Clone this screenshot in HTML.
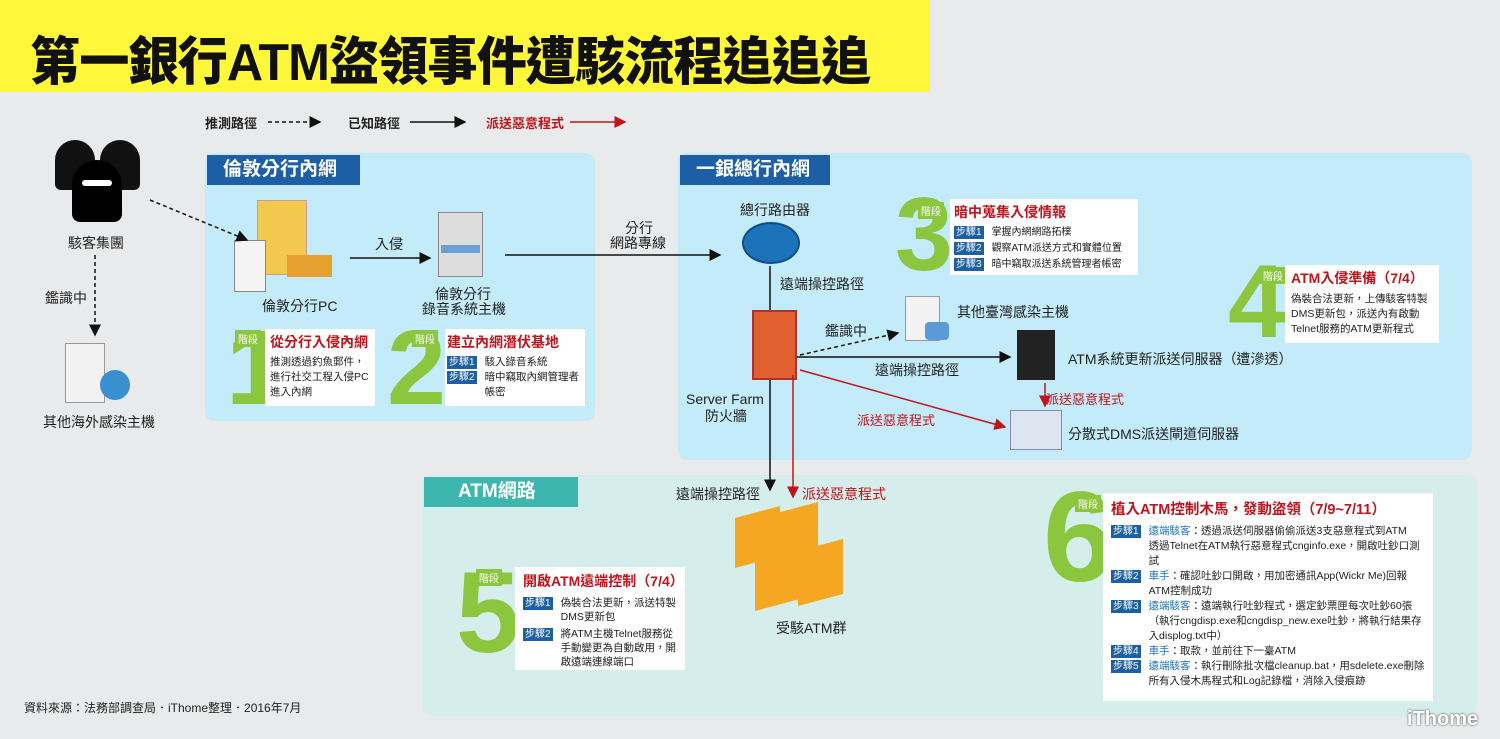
<!DOCTYPE html>
<html><head><meta charset="utf-8">
<style>
*{margin:0;padding:0;box-sizing:border-box}
body{width:1500px;height:739px;overflow:hidden;position:relative;background:#e9eaeb;font-family:"Liberation Sans","Noto Sans CJK TC",sans-serif;color:#222}
.a{position:absolute}
.t{position:absolute;white-space:nowrap;font-size:14px}
.panel{position:absolute;border-radius:10px}
.hdr{position:absolute;color:#fff;font-weight:bold;font-size:19px;padding-left:16px;line-height:30px}
.box{position:absolute;background:#fff}
.num{position:absolute;color:#8cc63f;font-weight:900;font-family:"Liberation Sans",sans-serif;line-height:1}
.jd{position:absolute;background:#8cc63f;color:#fff;font-size:10px;padding:1px 3px}
.bt{color:#c0141c;font-weight:bold;font-size:14px;white-space:nowrap}
.bx{font-size:11px;line-height:15px;color:#222}
.row{display:flex;align-items:flex-start}
.st{flex:none;display:inline-block;background:#1d5fa6;color:#fff;font-size:10px;padding:0 2px;line-height:13px;margin-right:8px;margin-top:1px}
.bl{color:#1d73b9}
</style></head><body>
<div class="a" style="left:0;top:0;width:930px;height:92px;background:#fff83a"></div>
<div class="t" style="left:30px;top:20px;font-size:52px;font-weight:900;color:#111;transform:scaleX(0.965);transform-origin:left top;letter-spacing:-1px">第一銀行ATM盜領事件遭駭流程追追追</div>

<div class="t" style="left:205px;top:113px;font-size:13px;font-weight:bold">推測路徑</div>
<div class="t" style="left:348px;top:113px;font-size:13px;font-weight:bold">已知路徑</div>
<div class="t" style="left:486px;top:113px;font-size:13px;font-weight:bold;color:#c0141c">派送惡意程式</div>

<div class="panel" style="left:205px;top:153px;width:390px;height:268px;background:#c3ebf9"></div>
<div class="hdr" style="left:207px;top:155px;width:153px;background:#1d5fa6">倫敦分行內網</div>
<div class="panel" style="left:678px;top:153px;width:794px;height:307px;background:#c3ebf9"></div>
<div class="hdr" style="left:680px;top:155px;width:150px;background:#1d5fa6">一銀總行內網</div>
<div class="panel" style="left:422px;top:475px;width:1055px;height:241px;background:#d6eeeb"></div>
<div class="hdr" style="left:424px;top:477px;width:154px;background:#3cb6ae;padding-left:34px">ATM網路</div>

<div class="a" style="left:55px;top:140px;width:40px;height:50px;background:#111;border-radius:20px 20px 6px 6px"></div>
<div class="a" style="left:100px;top:140px;width:40px;height:50px;background:#111;border-radius:20px 20px 6px 6px"></div>
<div class="a" style="left:72px;top:160px;width:50px;height:62px;background:#000;border-radius:25px 25px 8px 8px"></div>
<div class="a" style="left:82px;top:180px;width:30px;height:6px;background:#fff;border-radius:3px"></div>
<div class="t" style="left:68px;top:233px">駭客集團</div>
<div class="t" style="left:45px;top:288px">鑑識中</div>
<div class="a" style="left:65px;top:343px;width:40px;height:60px;background:#f2f2f2;border:1px solid #999"></div>
<div class="a" style="left:100px;top:370px;width:30px;height:30px;border-radius:50%;background:#3a8fd0"></div>
<div class="t" style="left:43px;top:412px">其他海外感染主機</div>

<div class="a" style="left:257px;top:200px;width:50px;height:75px;background:#f2c94c;border:1px solid #c99"></div>
<div class="a" style="left:234px;top:240px;width:32px;height:52px;background:#f4f4f4;border:1px solid #888"></div>
<div class="a" style="left:287px;top:255px;width:45px;height:22px;background:#e5a030"></div>
<div class="t" style="left:262px;top:296px">倫敦分行PC</div>
<div class="t" style="left:375px;top:234px">入侵</div>
<div class="a" style="left:438px;top:212px;width:45px;height:65px;background:#ddd;border:1px solid #888"></div>
<div class="a" style="left:441px;top:245px;width:39px;height:8px;background:#6aa0d8"></div>
<div class="t" style="left:435px;top:284px">倫敦分行</div>
<div class="t" style="left:422px;top:299px">錄音系統主機</div>
<div class="t" style="left:625px;top:218px">分行</div>
<div class="t" style="left:610px;top:233px">網路專線</div>

<div class="num" style="left:226px;top:315px;font-size:106px">1</div>
<div class="jd" style="left:235px;top:330px">階段</div>
<div class="box" style="left:265px;top:329px;width:110px;height:77px;padding:3px 5px">
<div class="bt">從分行入侵內網</div><div class="bx" style="margin-top:3px;font-size:10.5px">推測透過釣魚郵件，進行社交工程入侵PC進入內網</div></div>
<div class="num" style="left:387px;top:315px;font-size:106px">2</div>
<div class="jd" style="left:412px;top:330px">階段</div>
<div class="box" style="left:445px;top:329px;width:140px;height:77px;padding:3px 2px">
<div class="bt">建立內網潛伏基地</div><div class="bx" style="margin-top:3px;font-size:10.5px">
<div class="row"><span class="st">步驟1</span><span>駭入錄音系統</span></div>
<div class="row"><span class="st">步驟2</span><span>暗中竊取內網管理者帳密</span></div></div></div>

<div class="t" style="left:740px;top:200px">總行路由器</div>
<div class="a" style="left:742px;top:222px;width:58px;height:42px;border-radius:50%;background:#1d73b9;border:2px solid #0d4d8a"></div>
<div class="t" style="left:780px;top:274px">遠端操控路徑</div>
<div class="a" style="left:752px;top:310px;width:45px;height:70px;background:#e06030;border:2px solid #a33"></div>
<div class="t" style="left:686px;top:391px">Server Farm</div>
<div class="t" style="left:705px;top:406px">防火牆</div>
<div class="a" style="left:905px;top:296px;width:35px;height:45px;background:#f2f2f2;border:1px solid #999"></div>
<div class="a" style="left:925px;top:322px;width:24px;height:18px;background:#5a9ad8;border-radius:4px"></div>
<div class="t" style="left:957px;top:302px">其他臺灣感染主機</div>
<div class="t" style="left:825px;top:321px">鑑識中</div>
<div class="t" style="left:875px;top:360px">遠端操控路徑</div>
<div class="a" style="left:1017px;top:330px;width:38px;height:50px;background:#222"></div>
<div class="t" style="left:1068px;top:349px">ATM系統更新派送伺服器（遭滲透）</div>
<div class="t" style="left:1046px;top:389px;color:#c0141c;font-size:13px">派送惡意程式</div>
<div class="t" style="left:857px;top:410px;color:#c0141c;font-size:13px">派送惡意程式</div>
<div class="a" style="left:1010px;top:410px;width:52px;height:40px;background:#dde6f0;border:1px solid #88a"></div>
<div class="t" style="left:1068px;top:424px">分散式DMS派送閘道伺服器</div>

<div class="num" style="left:895px;top:183px;font-size:104px">3</div>
<div class="jd" style="left:918px;top:202px">階段</div>
<div class="box" style="left:950px;top:199px;width:188px;height:76px;padding:3px 4px">
<div class="bt">暗中蒐集入侵情報</div><div class="bx" style="margin-top:3px;line-height:16px;font-size:10px"><span class="st">步驟1</span>掌握內網網路拓樸<br><span class="st">步驟2</span>觀察ATM派送方式和實體位置<br><span class="st">步驟3</span>暗中竊取派送系統管理者帳密</div></div>
<div class="num" style="left:1228px;top:250px;font-size:104px">4</div>
<div class="jd" style="left:1260px;top:267px">階段</div>
<div class="box" style="left:1285px;top:265px;width:154px;height:78px;padding:3px 6px">
<div class="bt">ATM入侵準備（7/4）</div><div class="bx" style="margin-top:4px;font-size:10.5px">偽裝合法更新，上傳駭客特製DMS更新包，派送內有啟動Telnet服務的ATM更新程式</div></div>

<div class="t" style="left:676px;top:484px">遠端操控路徑</div>
<div class="t" style="left:802px;top:484px;color:#c0141c">派送惡意程式</div>
<div class="a" style="left:735px;top:512px;width:45px;height:50px;background:#f5a623;transform:skewY(-15deg)"></div>
<div class="a" style="left:773px;top:508px;width:45px;height:50px;background:#f5a623;transform:skewY(-15deg)"></div>
<div class="a" style="left:755px;top:550px;width:45px;height:55px;background:#f5a623;transform:skewY(-15deg)"></div>
<div class="a" style="left:798px;top:545px;width:45px;height:55px;background:#f5a623;transform:skewY(-15deg)"></div>
<div class="t" style="left:776px;top:618px">受駭ATM群</div>

<div class="num" style="left:456px;top:556px;font-size:115px">5</div>
<div class="jd" style="left:476px;top:569px">階段</div>
<div class="box" style="left:515px;top:567px;width:170px;height:103px;padding:4px 8px">
<div class="bt">開啟ATM遠端控制（7/4）</div><div class="bx" style="margin-top:5px;font-size:10.5px;line-height:14px">
<div class="row"><span class="st">步驟1</span><span>偽裝合法更新，派送特製DMS更新包</span></div>
<div class="row" style="margin-top:3px"><span class="st">步驟2</span><span>將ATM主機Telnet服務從手動變更為自動啟用，開啟遠端連線端口</span></div></div></div>

<div class="num" style="left:1043px;top:474px;font-size:128px">6</div>
<div class="jd" style="left:1075px;top:495px">階段</div>
<div class="box" style="left:1103px;top:493px;width:330px;height:208px;padding:5px 8px">
<div class="bt" style="font-size:14.5px">植入ATM控制木馬，發動盜領（7/9~7/11）</div>
<div class="bx" style="margin-top:5px;font-size:10.5px;line-height:15px">
<div class="row"><span class="st">步驟1</span><span><span class="bl">遠端駭客</span>：透過派送伺服器偷偷派送3支惡意程式到ATM<br>透過Telnet在ATM執行惡意程式cnginfo.exe，開啟吐鈔口測試</span></div>
<div class="row"><span class="st">步驟2</span><span><span class="bl">車手</span>：確認吐鈔口開啟，用加密通訊App(Wickr Me)回報ATM控制成功</span></div>
<div class="row"><span class="st">步驟3</span><span><span class="bl">遠端駭客</span>：遠端執行吐鈔程式，選定鈔票匣每次吐鈔60張（執行cngdisp.exe和cngdisp_new.exe吐鈔，將執行結果存入displog.txt中）</span></div>
<div class="row"><span class="st">步驟4</span><span><span class="bl">車手</span>：取款，並前往下一臺ATM</span></div>
<div class="row"><span class="st">步驟5</span><span><span class="bl">遠端駭客</span>：執行刪除批次檔cleanup.bat，用sdelete.exe刪除所有入侵木馬程式和Log記錄檔，消除入侵痕跡</span></div>
</div></div>

<div class="t" style="left:24px;top:699px;font-size:12px">資料來源：法務部調查局．iThome整理．2016年7月</div>
<div class="t" style="left:1407px;top:708px;font-size:20px;font-weight:bold;color:#fff;text-shadow:0 0 2px #333">iThome</div>

<svg class="a" style="left:0;top:0" width="1500" height="739">
<defs>
<marker id="k" markerWidth="8" markerHeight="8" refX="7" refY="4" orient="auto"><path d="M0,0 L8,4 L0,8z" fill="#111"/></marker>
<marker id="r" markerWidth="8" markerHeight="8" refX="7" refY="4" orient="auto"><path d="M0,0 L8,4 L0,8z" fill="#c0141c"/></marker>
</defs>
<g stroke-width="1.5" fill="none">
<line x1="268" y1="122" x2="320" y2="122" stroke="#111" stroke-dasharray="4,3" marker-end="url(#k)"/>
<line x1="410" y1="122" x2="465" y2="122" stroke="#111" marker-end="url(#k)"/>
<line x1="570" y1="122" x2="625" y2="122" stroke="#c0141c" marker-end="url(#r)"/>
<line x1="150" y1="200" x2="247" y2="240" stroke="#111" stroke-dasharray="4,3" marker-end="url(#k)"/>
<line x1="95" y1="255" x2="95" y2="335" stroke="#111" stroke-dasharray="4,3" marker-end="url(#k)"/>
<line x1="350" y1="258" x2="430" y2="258" stroke="#111" marker-end="url(#k)"/>
<line x1="505" y1="255" x2="720" y2="255" stroke="#111" marker-end="url(#k)"/>
<line x1="770" y1="266" x2="770" y2="310" stroke="#111"/>
<line x1="770" y1="380" x2="770" y2="490" stroke="#111" marker-end="url(#k)"/>
<line x1="793" y1="375" x2="793" y2="497" stroke="#c0141c" marker-end="url(#r)"/>
<line x1="800" y1="355" x2="898" y2="333" stroke="#111" stroke-dasharray="4,3" marker-end="url(#k)"/>
<line x1="797" y1="357" x2="1010" y2="357" stroke="#111" marker-end="url(#k)"/>
<line x1="800" y1="370" x2="1005" y2="427" stroke="#c0141c" marker-end="url(#r)"/>
<line x1="1045" y1="383" x2="1045" y2="406" stroke="#c0141c" marker-end="url(#r)"/>
</g></svg>
</body></html>
